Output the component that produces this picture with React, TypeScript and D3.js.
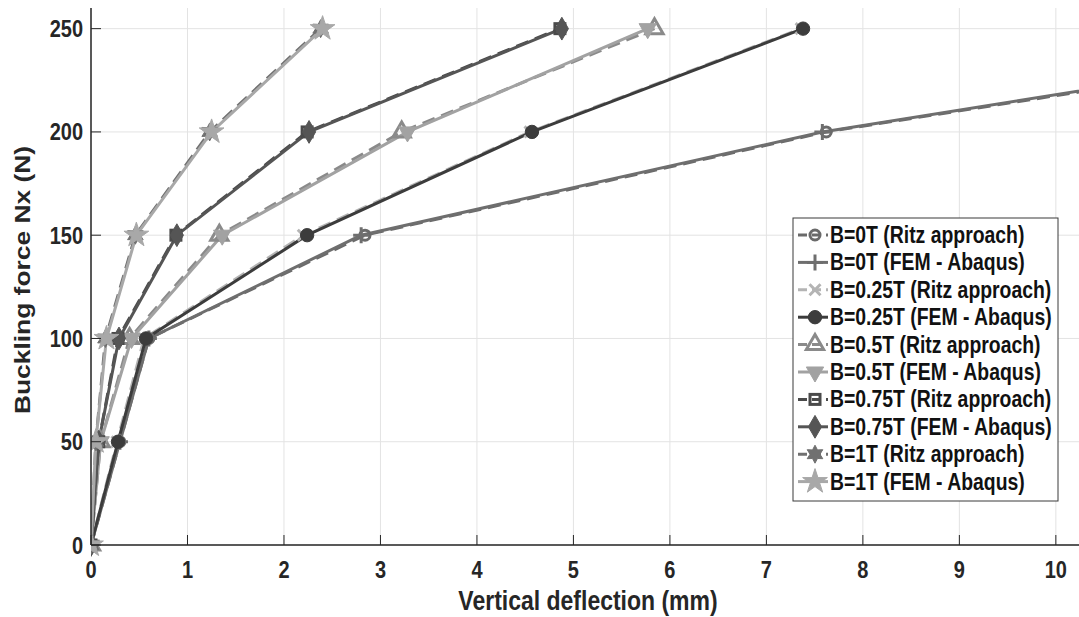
import React from 'react'
import * as d3 from 'd3'

// applied force levels (N)
const forces = [0, 50, 100, 150, 200, 250]

// vertical deflection (mm) per case
const ritz0 = [0, 0.3, 0.6, 2.84, 7.62, 14.4]
const fem0 = [0, 0.3, 0.6, 2.8, 7.58, 14.3]
const ritz025 = [0, 0.27, 0.55, 2.2, 4.55, 7.36]
const fem025 = [0, 0.28, 0.57, 2.24, 4.57, 7.38]
const ritz05 = [0, 0.1, 0.4, 1.33, 3.22, 5.84]
const fem05 = [0, 0.1, 0.42, 1.36, 3.28, 5.77]
const ritz075 = [0, 0.08, 0.28, 0.88, 2.24, 4.86]
const fem075 = [0, 0.08, 0.29, 0.89, 2.26, 4.88]
const ritz1 = [0, 0.05, 0.15, 0.46, 1.23, 2.38]
const fem1 = [0, 0.05, 0.16, 0.47, 1.25, 2.4]

const xTicks = [0, 1, 2, 3, 4, 5, 6, 7, 8, 9, 10]
const yTicks = [0, 50, 100, 150, 200, 250]

const series = [
  { name: 'B=0T (Ritz approach)', x: ritz0, color: '#6a6a6a', dash: true, marker: 'circle' },
  { name: 'B=0T (FEM - Abaqus)', x: fem0, color: '#6e6e6e', dash: false, marker: 'plus' },
  { name: 'B=0.25T (Ritz approach)', x: ritz025, color: '#b4b4b4', dash: true, marker: 'x' },
  { name: 'B=0.25T (FEM - Abaqus)', x: fem025, color: '#3c3c3c', dash: false, marker: 'hex' },
  { name: 'B=0.5T (Ritz approach)', x: ritz05, color: '#8a8a8a', dash: true, marker: 'tri' },
  { name: 'B=0.5T (FEM - Abaqus)', x: fem05, color: '#a2a2a2', dash: false, marker: 'triDown' },
  { name: 'B=0.75T (Ritz approach)', x: ritz075, color: '#4a4a4a', dash: true, marker: 'square' },
  { name: 'B=0.75T (FEM - Abaqus)', x: fem075, color: '#555555', dash: false, marker: 'diamond' },
  { name: 'B=1T (Ritz approach)', x: ritz1, color: '#707070', dash: true, marker: 'hexagram' },
  { name: 'B=1T (FEM - Abaqus)', x: fem1, color: '#a8a8a8', dash: false, marker: 'star' }
]

const W = 1079
const H = 617
const left = 91
const right = 1079
const top = 8
const bottom = 545
const SY = 1.2 // picture is stretched vertically

function hexagramPath (r: number) {
  const pts: [number, number][] = []
  for (let i = 0; i < 12; i++) {
    const a = (Math.PI / 6) * i - Math.PI / 2
    const rr = i % 2 === 0 ? r : r * 0.55
    pts.push([rr * Math.cos(a), rr * Math.sin(a)])
  }
  return 'M' + pts.map(p => p.join(',')).join('L') + 'Z'
}

function Marker ({ kind, color }: { kind: string, color: string }) {
  switch (kind) {
    case 'circle':
      return <circle r={5} fill='none' stroke={color} strokeWidth={3} />
    case 'plus':
      return <path d='M-8,0H8M0,-8V8' stroke={color} strokeWidth={3} />
    case 'x':
      return <path d='M-5.5,-5.5L5.5,5.5M-5.5,5.5L5.5,-5.5' stroke={color} strokeWidth={3} />
    case 'hex':
      return <path d={d3.symbol(d3.symbolCircle, 140)()!} fill={color} stroke={color} strokeWidth={1} />
    case 'tri':
      return <path d={d3.symbol(d3.symbolTriangle, 130)()!} fill='none' stroke={color} strokeWidth={3} />
    case 'triDown':
      return <path d={d3.symbol(d3.symbolTriangle, 130)()!} transform='rotate(180)' fill={color} stroke={color} strokeWidth={1} />
    case 'square':
      return <rect x={-5} y={-5} width={10} height={10} fill='none' stroke={color} strokeWidth={3} />
    case 'diamond':
      return <path d={d3.symbol(d3.symbolDiamond, 150)()!} fill={color} stroke={color} strokeWidth={1} />
    case 'hexagram':
      return <path d={hexagramPath(9)} fill={color} stroke={color} strokeWidth={1} />
    default:
      return <path d={d3.symbol(d3.symbolStar, 190)()!} fill={color} stroke={color} strokeWidth={1} />
  }
}

function Txt ({ x, y, size, anchor, fill, children }: { x: number, y: number, size: number, anchor?: string, fill?: string, children: React.ReactNode }) {
  return (
    <text transform={'translate(' + x + ',' + y + ') scale(1,' + SY + ')'} textAnchor={anchor || 'start'} fontSize={size} fontWeight='bold' fill={fill || '#262626'}>
      {children}
    </text>
  )
}

export default function App () {
  const x = d3.scaleLinear().domain([0, 10.24]).range([left, right])
  const y = d3.scaleLinear().domain([0, 260]).range([bottom, top])
  const line = d3.line<[number, number]>().x(d => x(d[0])).y(d => y(d[1]))
  const font = 'Arial, "Liberation Sans", sans-serif'

  const legX = 793
  const legY = 218
  const legW = 265
  const legH = 283
  const rowH = 27.4

  return (
    <svg width={W} height={H} style={{ position: 'absolute', left: 0, top: 0, background: '#fff' }} fontFamily={font}>
      <defs>
        <clipPath id='plot'>
          <rect x={left} y={0} width={right - left} height={bottom + 12} />
        </clipPath>
      </defs>
      {/* grid */}
      {xTicks.map(t => (
        <line key={'gx' + t} x1={x(t)} x2={x(t)} y1={top} y2={bottom} stroke='#e3e3e3' strokeWidth={1} />
      ))}
      {yTicks.map(t => (
        <line key={'gy' + t} x1={left} x2={right} y1={y(t)} y2={y(t)} stroke='#e3e3e3' strokeWidth={1} />
      ))}
      {/* lines */}
      <g clipPath='url(#plot)'>
        {series.map(s => (
          <path
            key={s.name}
            d={line(s.x.map((v, i) => [v, forces[i]]))!}
            fill='none'
            stroke={s.color}
            strokeWidth={3}
            strokeDasharray={s.dash ? '13,7' : undefined}
          />
        ))}
        {series.map(s => (
          <g key={s.name + 'm'}>
            {s.x.map((v, i) => (
              <g key={i} transform={'translate(' + x(v) + ',' + y(forces[i]) + ')'}>
                <Marker kind={s.marker} color={s.color} />
              </g>
            ))}
          </g>
        ))}
      </g>
      {/* axes */}
      <line x1={left} x2={right} y1={bottom} y2={bottom} stroke='#262626' strokeWidth={1.5} />
      <line x1={left} x2={left} y1={top} y2={bottom} stroke='#262626' strokeWidth={1.5} />
      {xTicks.map(t => (
        <g key={'tx' + t}>
          <line x1={x(t)} x2={x(t)} y1={bottom} y2={bottom - 10} stroke='#262626' strokeWidth={1} />
          <Txt x={x(t)} y={bottom + 33} size={20} anchor='middle'>{t}</Txt>
        </g>
      ))}
      {yTicks.map(t => (
        <g key={'ty' + t}>
          <line x1={left} x2={left + 10} y1={y(t)} y2={y(t)} stroke='#262626' strokeWidth={1} />
          <Txt x={left - 8} y={y(t) + 8.5} size={20} anchor='end'>{t}</Txt>
        </g>
      ))}
      <Txt x={588} y={610} size={23} anchor='middle'>Vertical deflection (mm)</Txt>
      <text transform={'translate(30,280) scale(1,' + SY + ') rotate(-90)'} textAnchor='middle' fontSize={22} fontWeight='bold' fill='#262626'>Buckling force Nx (N)</text>
      {/* legend */}
      <rect x={legX} y={legY} width={legW} height={legH} fill='#fff' stroke='#3a3a3a' strokeWidth={1} />
      {series.map((s, i) => {
        const cy = legY + 17 + i * rowH
        return (
          <g key={s.name + 'l'}>
            <line x1={legX + 5} x2={legX + 35} y1={cy} y2={cy} stroke={s.color} strokeWidth={3} strokeDasharray={s.dash ? '9,5' : undefined} />
            <g transform={'translate(' + (legX + 22) + ',' + cy + ')'}>
              <Marker kind={s.marker} color={s.color} />
            </g>
            <Txt x={legX + 37} y={cy + 8} size={19.4} fill='#111'>{s.name}</Txt>
          </g>
        )
      })}
    </svg>
  )
}
